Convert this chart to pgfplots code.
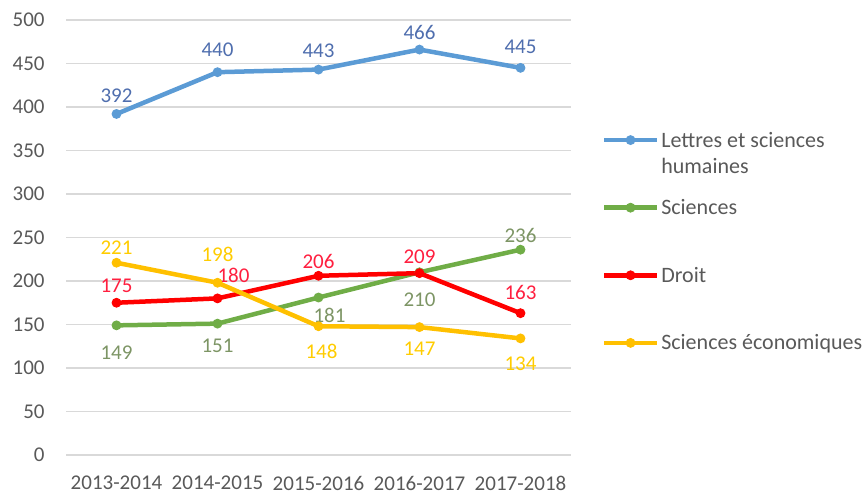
\documentclass[border=0pt]{standalone}
\usepackage{fontspec}
\setmainfont{Carlito}
\usepackage{pgfplots}
\pgfplotsset{compat=1.18}
\usepackage{pgfplotstable}

\definecolor{cblue}{HTML}{5B9BD5}
\definecolor{cgreen}{HTML}{70AD47}
\definecolor{cred}{HTML}{FF0000}
\definecolor{cyellow}{HTML}{FFC000}
\definecolor{lblue}{HTML}{4F6EAE}
\definecolor{lgreen}{HTML}{7D9565}
\definecolor{lred}{HTML}{FF1F3F}
\definecolor{lyellow}{HTML}{FFCC00}
\definecolor{gridgray}{HTML}{D9D9D9}
\definecolor{txtgray}{HTML}{595959}

% x y, label shift in pt (dx, dy)
\pgfplotstableread{
x y dx dy
0 392 0 9
1 440 0 11
2 443 0 9.5
3 466 0 8.5
4 445 0 10.5
}\lettres
\pgfplotstableread{
x y dx dy
0 149 0 -13.5
1 151 0 -11
2 181 5.5 -9
3 210 0 -13.5
4 236 0 7
}\sciences
\pgfplotstableread{
x y dx dy
0 175 0 8.5
1 180 8 11.5
2 206 0 7
3 209 0 8
4 163 0 10.5
}\droit
\pgfplotstableread{
x y dx dy
0 221 0 7.5
1 198 0 14
2 148 1.5 -12.5
3 147 0 -11
4 134 0 -12.5
}\eco

\begin{document}
\fontsize{10.5}{12.6}\selectfont
\begin{tikzpicture}
\path[use as bounding box] (0,0) rectangle (431pt,248pt);
\begin{axis}[
  at={(33pt,20.5pt)}, anchor=south west,
  scale only axis, width=252.5pt, height=217.5pt,
  xmin=-0.5, xmax=4.5, ymin=0, ymax=500,
  xtick={0,1,2,3,4},
  xticklabels={2013-2014,2014-2015,2015-2016,2016-2017,2017-2018},
  ytick={0,50,...,500},
  clip=false,
  axis line style={draw=none},
  tick style={draw=none},
  ymajorgrids,
  grid style={color=gridgray, line width=0.75pt},
  /pgf/number format/assume math mode=true,
  ticklabel style={font=\fontsize{10.5}{12.6}\selectfont, text=txtgray, inner sep=0pt},
  xticklabel style={anchor=center, yshift=-14pt},
  yticklabel style={anchor=east, xshift=-10.5pt},
  every axis plot/.append style={line width=2.25pt, mark=*, mark size=2.2pt},
  visualization depends on={\thisrow{dx} \as \lblx},
  visualization depends on={\thisrow{dy} \as \lbly},
  nodes near coords,
  point meta=y,
  every node near coord/.append style={anchor=center, inner sep=0pt,
    xshift=\lblx pt, yshift=\lbly pt, font=\fontsize{10.5}{12.6}\selectfont},
  legend image code/.code={
    \draw[#1, yshift=3.5pt] (0pt,0pt) -- (26.5pt,0pt);
    \draw[#1, yshift=3.5pt, mark=*] plot coordinates {(13.25pt,0pt)};
  },
  legend style={at={(rel axis cs:1.061,0.740)}, anchor=north west,
    draw=none, fill=none, inner sep=0pt, outer sep=0pt,
    row sep=11.3pt, column sep=1pt,
    nodes={inner sep=0pt, text height=7pt, text depth=15.5pt, text=txtgray},
    cells={anchor=base west},
    font=\fontsize{11}{13}\selectfont},
]
\addplot[color=cblue, mark options={fill=cblue, line width=0.5pt},
  every node near coord/.append style={text=lblue}] table[x=x,y=y] {\lettres};
\addlegendentry{\begin{tabular}[t]{@{}l@{}}Lettres et sciences\\humaines\end{tabular}}
\addplot[color=cgreen, mark options={fill=cgreen, line width=0.5pt},
  every node near coord/.append style={text=lgreen}] table[x=x,y=y] {\sciences};
\addlegendentry{Sciences}
\addplot[color=cred, mark options={fill=cred, line width=0.5pt},
  every node near coord/.append style={text=lred}] table[x=x,y=y] {\droit};
\addlegendentry{Droit}
\addplot[color=cyellow, mark options={fill=cyellow, line width=0.5pt},
  every node near coord/.append style={text=lyellow}] table[x=x,y=y] {\eco};
\addlegendentry{Sciences économiques}
\end{axis}
\end{tikzpicture}
\end{document}
